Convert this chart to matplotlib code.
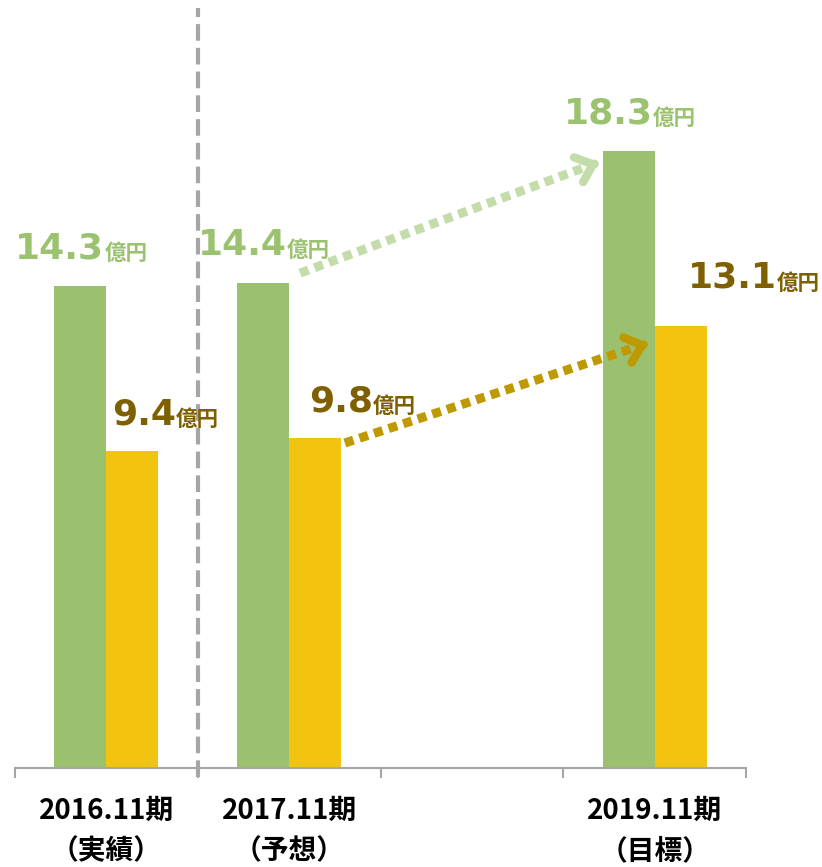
import numpy as np
import matplotlib.pyplot as plt

# data
periods = ['2016.11期\n（実績）', '2017.11期\n（予想）', '', '2019.11期\n（目標）']
bar_slots = [0, 1, 3]              # 2018 slot is left empty
sales = [14.3, 14.4, 18.3]         # green bars (億円)
profit = [9.4, 9.8, 13.1]          # yellow bars (億円)

GREEN = '#9BC16E'
YELLOW = '#F2C40F'
GREEN_TXT = '#9BC26E'
BROWN_TXT = '#7F6000'
GREEN_ARR = '#C4DCA9'
YELLOW_ARR = '#BF9900'

W, H = 822, 867
fig = plt.figure(figsize=(W / 100, H / 100), dpi=100)
ax = fig.add_axes([15 / W, 99 / H, 731 / W, 768 / H])

bw = 0.285
x = np.array(bar_slots, dtype=float)
ax.bar(x - bw / 2, sales, width=bw, color=GREEN)
ax.bar(x + bw / 2, profit, width=bw, color=YELLOW)

ax.set_xlim(-0.5, 3.5)
ax.set_ylim(0, 22.78)

# axis styling
for s in ['top', 'right', 'left']:
    ax.spines[s].set_visible(False)
ax.spines['bottom'].set_color('#A6A6A6')
ax.spines['bottom'].set_linewidth(1.5)
ax.set_yticks([])
ax.set_xticks(np.arange(-0.5, 4.0, 1.0))
ax.set_xticklabels([])
ax.tick_params(axis='x', which='major', length=7, width=1.5, color='#A6A6A6', direction='out')
ax.set_xticks(np.arange(4), minor=True)
ax.set_xticklabels(periods, minor=True, fontfamily='Noto Sans CJK JP',
                   fontweight='bold', fontsize=20, linespacing=1.55)
ax.tick_params(axis='x', which='minor', length=0, pad=21)

# dashed separator between actual and forecast
ax.plot([0.5, 0.5], [-0.28, 22.55], color='#A6A6A6', lw=3,
        linestyle=(0, (4, 1.7)), dash_capstyle='butt', clip_on=False)


# value labels: big number + small unit
def value_label(xb, val, dx, dy, color):
    t = ax.annotate(f'{val:.1f}', xy=(xb, val), xytext=(dx, dy),
                    textcoords='offset points', ha='left', va='baseline',
                    fontfamily='DejaVu Sans', fontweight='bold', fontsize=26,
                    color=color)
    ax.annotate('億円', xy=(1, 0), xycoords=t, xytext=(0, 3.5),
                textcoords='offset points', ha='left', va='baseline',
                fontfamily='Noto Sans CJK JP', fontweight='bold', fontsize=15.5,
                color=color)


green_off = [(-28, 20), (-28, 20), (-28, 20)]
yellow_off = [(4, 19.5), (14.5, 19), (24, 28)]
for xi, v, (dx, dy) in zip(x - bw, sales, green_off):
    value_label(xi, v, dx, dy, GREEN_TXT)
for xi, v, (dx, dy) in zip(x, profit, yellow_off):
    value_label(xi, v, dx, dy, BROWN_TXT)


# dotted growth arrows (2017 -> 2019)
def growth_arrow(x0, y0, x1, y1, color):
    vx, vy = x1 - x0, y1 - y0
    ax.plot([x0, x0 + vx * 0.95], [y0, y0 + vy * 0.95], color=color, lw=6.5,
            linestyle=(0, (1, 0.7)), dash_capstyle='butt')
    ax.annotate('', xy=(x1, y1), xytext=(x1 - vx * 0.02, y1 - vy * 0.02),
                arrowprops=dict(arrowstyle='->,head_length=1.1,head_width=0.95',
                                color=color, lw=6, capstyle='round',
                                joinstyle='round', shrinkA=0, shrinkB=0))


growth_arrow(x[1] + 0.06, sales[1] + 0.28, x[2] - bw - 0.02, sales[2] - 0.33, GREEN_ARR)
growth_arrow(x[1] + bw + 0.02, profit[1] - 0.16, x[2] - 0.036, profit[2] - 0.5, YELLOW_ARR)

fig.savefig('out.png', dpi=100)
